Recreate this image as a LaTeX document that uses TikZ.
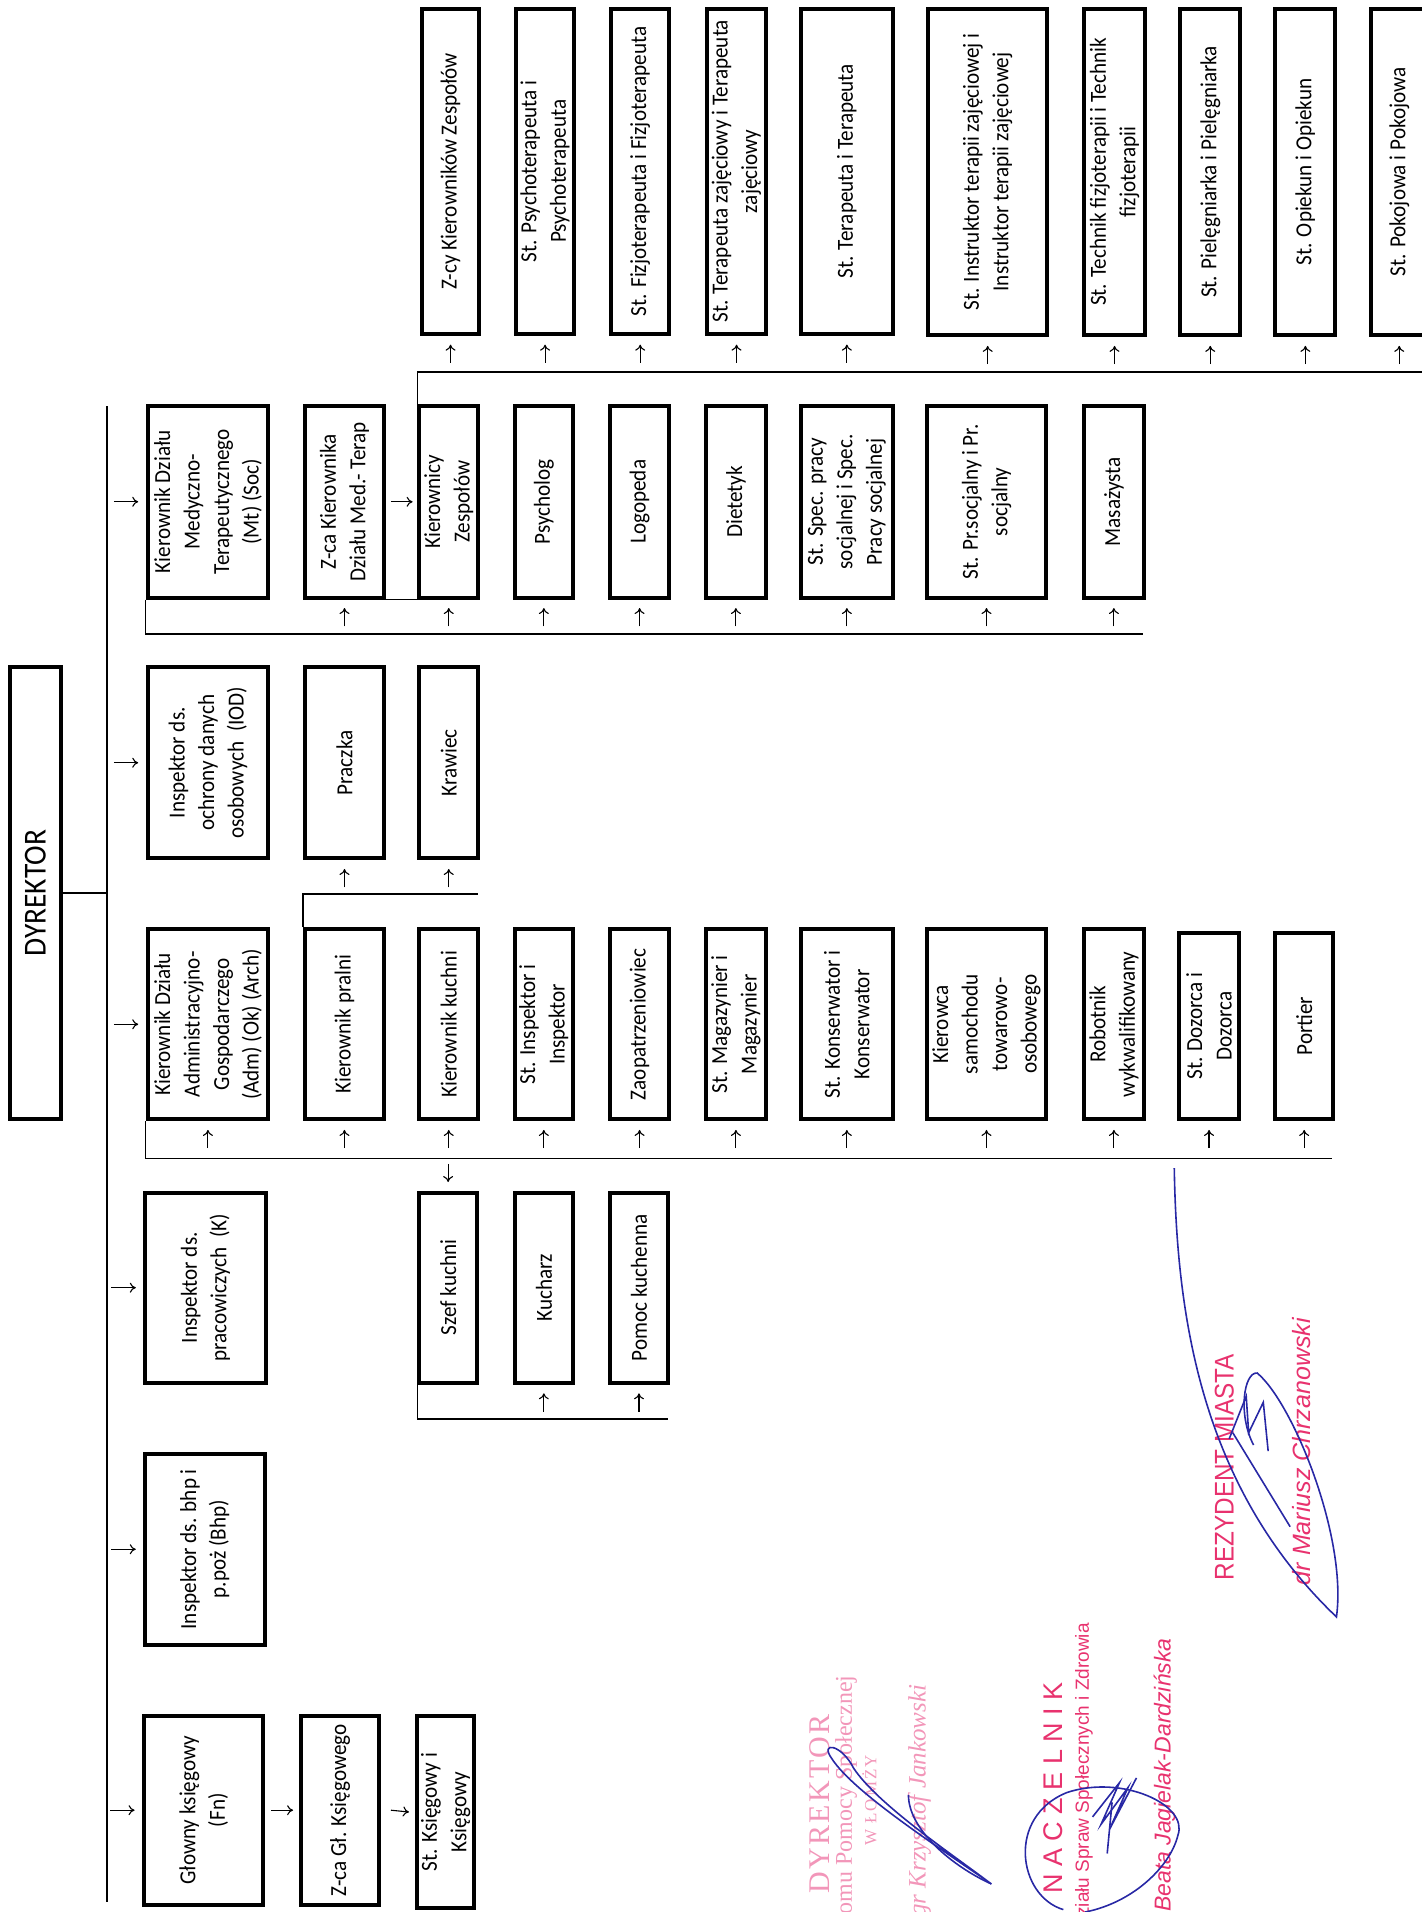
\documentclass[tikz,border=0pt]{standalone}
\usepackage{fontspec}
\setmainfont{Carlito}[FakeStretch=0.92]
\newfontfamily\stampserif{Liberation Serif}
\newfontfamily\stampsans{Liberation Sans}
\usetikzlibrary{calc,arrows.meta}
\definecolor{stamp}{RGB}{232,50,110}
\definecolor{stamplight}{RGB}{242,150,185}
\definecolor{ink}{RGB}{40,40,165}
\tikzset{
 box/.style={draw, line width=4pt, rotate=90, align=center, inner sep=1pt, font=\fontsize{23}{29.5}\selectfont},
 conn/.style={line width=1.8pt},
 arr/.style={line width=1.1pt, -{To[length=6pt,width=10pt]}},
 sig/.style={ink, line width=1.6pt},
 stampnode/.style={rotate=90, anchor=west, inner sep=0},
}
\newcommand\bx[6]{\node[box, minimum width={(#5-#3)*1.2196pt}, minimum height={(#4-#2)*1.2196pt}] (#1) at ({(#2+#4)/2},{(#3+#5)/2}) {#6};}
\newcommand\uparr[1]{\draw[arr] ($(#1.west)+(0,22)$) -- ($(#1.west)+(0,7)$);}
\newcommand\rtarr[1]{\draw[arr] ($(#1.north)+(-26,0)$) -- ($(#1.north)+(-6,0)$);}
\begin{document}
\begin{tikzpicture}[x=1.2196pt,y=-1.2196pt]
\useasboundingbox (0,0) rectangle (1166,1568);
% director
\node[box, font=\fontsize{32}{38}\selectfont, minimum width={(918-547)*1.2196pt}, minimum height={(50-8)*1.2196pt}] (dyr) at (29,732.5) {DYREKTOR};
% level 1
\bx{med}{121}{333}{220}{490}{Kierownik Działu\\Medyczno-\\Terapeutycznego\\(Mt) (Soc)}
\bx{iod}{121}{547}{220}{704}{Inspektor ds.\\ochrony danych\\osobowych~~(IOD)}
\bx{adm}{121}{762}{220}{918}{Kierownik Działu\\Administracyjno-\\Gospodarczego\\(Adm) (Ok) (Arch)}
\bx{kadr}{119}{978}{218}{1134}{Inspektor ds.\\pracowiczych~~(K)}
\bx{bhp}{119}{1192}{217}{1349}{Inspektor ds. bhp i\\p.poż (Bhp)}
\bx{gk}{118}{1407}{216}{1562}{Głowny księgowy\\(Fn)}
% medical level 2
\bx{zk}{250}{333}{315}{490}{Z-ca Kierownika\\Działu Med.- Terap}
\bx{kz}{344}{333}{392}{490}{Kierownicy\\Zespołów}
\bx{psy}{422}{333}{470}{490}{Psycholog}
\bx{log}{500}{333}{549}{490}{Logopeda}
\bx{die}{579}{333}{628}{490}{Dietetyk}
\bx{spec}{657}{333}{732}{490}{St. Spec. pracy\\socjalnej i Spec.\\Pracy socjalnej}
\bx{prs}{760}{333}{858}{490}{St. Pr.socjalny i Pr.\\socjalny}
\bx{mas}{889}{333}{938}{490}{Masażysta}
% medical level 3
\bx{zkz}{346}{7}{393}{274}{Z-cy Kierowników Zespołów}
\bx{psyt}{423}{7}{471}{274}{St. Psychoterapeuta i\\Psychoterapeuta}
\bx{fiz}{501}{7}{549}{274}{St. Fizjoterapeuta i Fizjoterapeuta}
\bx{tz}{580}{7}{628}{274}{St. Terapeuta zajęciowy i Terapeuta\\zajęciowy}
\bx{ter}{657}{7}{732}{274}{St. Terapeuta i Terapeuta}
\bx{inst}{761}{7}{859}{275}{St. Instruktor terapii zajęciowej i\\Instruktor terapii zajęciowej}
\bx{tf}{889}{7}{939}{275}{St. Technik fizjoterapii i Technik\\fizjoterapii}
\bx{piel}{968}{7}{1017}{275}{St. Pielęgniarka i Pielęgniarka}
\bx{opi}{1046}{7}{1095}{275}{St. Opiekun i Opiekun}
\bx{pok}{1124}{7}{1171}{275}{St. Pokojowa i Pokojowa}
% admin
\bx{pra}{250}{547}{315}{704}{Praczka}
\bx{kra}{344}{547}{392}{704}{Krawiec}
\bx{kp}{250}{762}{315}{918}{Kierownik pralni}
\bx{kk}{344}{762}{392}{918}{Kierownik kuchni}
\bx{insp}{422}{762}{470}{918}{St. Inspektor i\\Inspektor}
\bx{zao}{500}{762}{549}{918}{Zaopatrzeniowiec}
\bx{mag}{579}{762}{628}{918}{St. Magazynier i\\Magazynier}
\bx{kon}{657}{762}{732}{918}{St. Konserwator i\\Konserwator}
\bx{kie}{760}{762}{858}{918}{Kierowca\\samochodu\\towarowo-\\osobowego}
\bx{rob}{889}{762}{938}{918}{Robotnik\\wykwalifikowany}
\bx{doz}{967}{765}{1016}{918}{St. Dozorca i\\Dozorca}
\bx{por}{1046}{765}{1093}{918}{Portier}
\bx{szef}{344}{978}{391}{1134}{Szef kuchni}
\bx{kuch}{422}{978}{470}{1134}{Kucharz}
\bx{pom}{500}{978}{548}{1134}{Pomoc kuchenna}
% finance
\bx{zgk}{247}{1407}{311}{1562}{Z-ca Gł. Księgowego}
\bx{sk}{342}{1407}{389}{1565}{St. Księgowy i\\Księgowy}
% main bus
\coordinate (busTop) at (88,333);
\coordinate (busBot) at (88,1560);
\draw[conn] (busTop) -- (busBot);
\draw[conn] (dyr.south) -- (dyr.south -| busTop);
\foreach \n in {med,iod,adm,kadr,bhp,gk} {\rtarr{\n}}
% medical
\coordinate (medEnd) at (937,520);
\draw[conn] (med.north west) |- (medEnd);
\draw[conn] (zk.south west) -- (kz.north west);
\draw[arr] ($(zk.south)+(4,0)$) -- ($(kz.north)+(-4,0)$);
\foreach \n in {zk,kz,psy,log,die,spec,prs,mas} {\uparr{\n}}
\coordinate (topEnd) at (1170,305);
\draw[conn] (kz.north east) |- (topEnd);
\foreach \n in {zkz,psyt,fiz,tz,ter,inst,tf,piel,opi,pok} {\uparr{\n}}
% admin
\coordinate (admEnd) at (1092,950);
\draw[conn] (adm.north west) |- (admEnd);
\foreach \n in {adm,kp,kk,insp,zao,mag,kon,kie,rob,doz,por} {\uparr{\n}}
\coordinate (pralEnd) at (392,733);
\draw[conn] (kp.north east) |- (pralEnd);
\foreach \n in {pra,kra} {\uparr{\n}}
\draw[arr] ($(szef.east)+(0,-22)$) -- ($(szef.east)+(0,-7)$);
\coordinate (kitEnd) at (548,1164);
\draw[conn] (szef.north west) |- (kitEnd);
\foreach \n in {kuch,pom} {\uparr{\n}}
% finance
\draw[arr] ($(gk.south)+(5,0)$) -- ($(zgk.north)+(-5,0)$);
\draw[arr] ($(zgk.south)+(8,0)$) -- ($(sk.north)+(-5,0)$);
% stamps
\node[stampnode, text=stamplight, font=\stampserif\fontsize{30}{30}\selectfont\addfontfeature{LetterSpace=8}] (s1) at (672,1553) {DYREKTOR};
\node[stampnode, text=stamplight, font=\stampserif\fontsize{24}{24}\selectfont] (s2) at (694,1570) {omu Pomocy Społecznej};
\node[stampnode, text=stamplight, font=\stampserif\fontsize{17}{17}\selectfont\addfontfeature{LetterSpace=12}] (s3) at (713,1514) {W ŁOMŻY};
\node[stampnode, text=stamplight, font=\stampserif\itshape\fontsize{25}{25}\selectfont] (s4) at (754,1572) {gr Krzysztof Jankowski};
\node[stampnode, text=stamp, font=\stampsans\fontsize{27}{27}\selectfont] (n1) at (864,1553) {N A C Z E L N I K};
\node[stampnode, text=stamp, font=\stampsans\fontsize{19}{19}\selectfont] (n2) at (889,1572) {ziału Spraw Społecznych i Zdrowia};
\node[stampnode, text=stamp, font=\stampsans\itshape\fontsize{23}{23}\selectfont] (n3) at (955,1568) {Beata Jagielak-Dardzińska};
\node[stampnode, text=stamp, font=\stampsans\fontsize{27}{27}\selectfont\addfontfeature{FakeStretch=0.9}] (p1) at (1004,1296) {REZYDENT MIASTA};
\node[stampnode, text=stamp, font=\stampsans\itshape\fontsize{25}{25}\selectfont] (p2) at (1067,1300) {dr Mariusz Chrzanowski};
% signatures
\draw[sig] (813,1545) .. controls (770,1515) and (700,1470) .. (682,1442) .. controls (672,1428) and (690,1430) .. (700,1450) .. controls (720,1480) and (780,1520) .. (813,1545);
\draw[sig] (745,1472) .. controls (745,1500) and (780,1530) .. (813,1545);
\draw[sig] (872,1566) .. controls (835,1555) and (825,1490) .. (875,1470) .. controls (920,1455) and (975,1480) .. (966,1505) .. controls (960,1530) and (930,1560) .. (890,1568);
\draw[sig] (896,1490) -- (918,1462) -- (903,1496) -- (925,1466) -- (910,1500) -- (932,1458);
\draw[sig] (912,1478) -- (908,1520);
\draw[sig] (963,958) .. controls (965,1080) and (985,1220) .. (1096,1326) .. controls (1105,1260) and (1060,1150) .. (1031,1126) .. controls (1020,1125) and (1015,1160) .. (1028,1185);
\draw[sig] (1008,1180) -- (1022,1145) -- (1024,1175) -- (1036,1150) -- (1040,1190);
\draw[sig] (1011,1175) -- (1058,1252);
\end{tikzpicture}
\end{document}
